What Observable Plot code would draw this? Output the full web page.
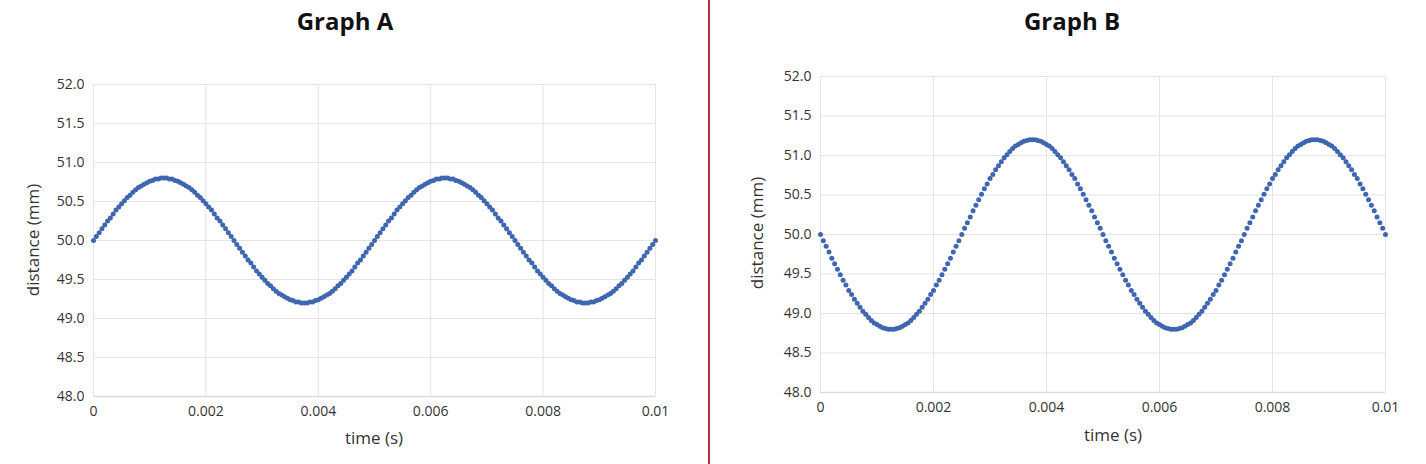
<!DOCTYPE html>
<html>
<head>
<meta charset="utf-8">
<script src="https://cdn.jsdelivr.net/npm/d3@7"></script>
<script src="https://cdn.jsdelivr.net/npm/@observablehq/plot@0.6"></script>
<style>
  html, body { margin: 0; padding: 0; background: #ffffff; }
  #root { position: relative; width: 1426px; height: 464px; overflow: hidden; font-family: "Open Sans", sans-serif; color: #262626; }
  .title { position: absolute; top: 6px; font-weight: 700; font-size: 24px; line-height: 30px; color: #111; transform: translateX(-50%); white-space: nowrap; }
  .xlab { position: absolute; font-size: 17px; line-height: 20px; color: #333; transform: translate(-50%, -50%); white-space: nowrap; }
  .ylab { position: absolute; font-size: 17px; line-height: 20px; color: #333; transform: translate(-50%, -50%) rotate(-90deg); white-space: nowrap; }
  .divider { position: absolute; left: 707.5px; top: 0; width: 2px; height: 464px; background: #b0343f; }
  .plotbox { position: absolute; top: 50px; }
</style>
</head>
<body>
<div id="root">
  <div class="title" style="left:345px">Graph A</div>
  <div class="title" style="left:1072px">Graph B</div>
  <div class="divider"></div>
  <div class="plotbox" id="plotA" style="left:0px"></div>
  <div class="plotbox" id="plotB" style="left:709px"></div>
  <div class="xlab" style="left:374px; top:438px">time (s)</div>
  <div class="xlab" style="left:1113px; top:435px">time (s)</div>
  <div class="ylab" style="left:33px; top:240px">distance (mm)</div>
  <div class="ylab" style="left:757px; top:233px">distance (mm)</div>
</div>
<script>
// sample times in milliseconds
const timeMs = [
  0,0.05,0.1,0.15,0.2,0.25,0.3,0.35,0.4,0.45,0.5,0.55,0.6,0.65,0.7,0.75,0.8,0.85,0.9,0.95,
  1,1.05,1.1,1.15,1.2,1.25,1.3,1.35,1.4,1.45,1.5,1.55,1.6,1.65,1.7,1.75,1.8,1.85,1.9,1.95,
  2,2.05,2.1,2.15,2.2,2.25,2.3,2.35,2.4,2.45,2.5,2.55,2.6,2.65,2.7,2.75,2.8,2.85,2.9,2.95,
  3,3.05,3.1,3.15,3.2,3.25,3.3,3.35,3.4,3.45,3.5,3.55,3.6,3.65,3.7,3.75,3.8,3.85,3.9,3.95,
  4,4.05,4.1,4.15,4.2,4.25,4.3,4.35,4.4,4.45,4.5,4.55,4.6,4.65,4.7,4.75,4.8,4.85,4.9,4.95,
  5,5.05,5.1,5.15,5.2,5.25,5.3,5.35,5.4,5.45,5.5,5.55,5.6,5.65,5.7,5.75,5.8,5.85,5.9,5.95,
  6,6.05,6.1,6.15,6.2,6.25,6.3,6.35,6.4,6.45,6.5,6.55,6.6,6.65,6.7,6.75,6.8,6.85,6.9,6.95,
  7,7.05,7.1,7.15,7.2,7.25,7.3,7.35,7.4,7.45,7.5,7.55,7.6,7.65,7.7,7.75,7.8,7.85,7.9,7.95,
  8,8.05,8.1,8.15,8.2,8.25,8.3,8.35,8.4,8.45,8.5,8.55,8.6,8.65,8.7,8.75,8.8,8.85,8.9,8.95,
  9,9.05,9.1,9.15,9.2,9.25,9.3,9.35,9.4,9.45,9.5,9.55,9.6,9.65,9.7,9.75,9.8,9.85,9.9,9.95,
  10
];

// Graph A distances (mm)
const distanceA = [
  50.00,50.05,50.10,50.15,50.20,50.25,50.29,50.34,50.39,50.43,50.47,50.51,50.55,50.58,50.62,50.65,50.68,50.70,50.72,50.74,50.76,50.77,50.79,50.79,50.80,50.80,
  50.80,50.79,50.79,50.77,50.76,50.74,50.72,50.70,50.68,50.65,50.62,50.58,50.55,50.51,50.47,50.43,50.39,50.34,50.29,50.25,50.20,50.15,50.10,50.05,50.00,
  49.95,49.90,49.85,49.80,49.75,49.71,49.66,49.61,49.57,49.53,49.49,49.45,49.42,49.38,49.35,49.32,49.30,49.28,49.26,49.24,49.23,49.21,49.21,49.20,49.20,
  49.20,49.21,49.21,49.23,49.24,49.26,49.28,49.30,49.32,49.35,49.38,49.42,49.45,49.49,49.53,49.57,49.61,49.66,49.71,49.75,49.80,49.85,49.90,49.95,50.00,
  50.05,50.10,50.15,50.20,50.25,50.29,50.34,50.39,50.43,50.47,50.51,50.55,50.58,50.62,50.65,50.68,50.70,50.72,50.74,50.76,50.77,50.79,50.79,50.80,50.80,
  50.80,50.79,50.79,50.77,50.76,50.74,50.72,50.70,50.68,50.65,50.62,50.58,50.55,50.51,50.47,50.43,50.39,50.34,50.29,50.25,50.20,50.15,50.10,50.05,50.00,
  49.95,49.90,49.85,49.80,49.75,49.71,49.66,49.61,49.57,49.53,49.49,49.45,49.42,49.38,49.35,49.32,49.30,49.28,49.26,49.24,49.23,49.21,49.21,49.20,49.20,
  49.20,49.21,49.21,49.23,49.24,49.26,49.28,49.30,49.32,49.35,49.38,49.42,49.45,49.49,49.53,49.57,49.61,49.66,49.71,49.75,49.80,49.85,49.90,49.95,50.00
];

// Graph B distances (mm)
const distanceB = [
  50.00,49.92,49.85,49.78,49.70,49.63,49.56,49.49,49.42,49.36,49.29,49.24,49.18,49.13,49.08,49.03,48.99,48.95,48.91,48.88,48.86,48.84,48.82,48.81,48.80,48.80,
  48.80,48.81,48.82,48.84,48.86,48.88,48.91,48.95,48.99,49.03,49.08,49.13,49.18,49.24,49.29,49.36,49.42,49.49,49.56,49.63,49.70,49.78,49.85,49.92,50.00,
  50.08,50.15,50.22,50.30,50.37,50.44,50.51,50.58,50.64,50.71,50.76,50.82,50.87,50.92,50.97,51.01,51.05,51.09,51.12,51.14,51.16,51.18,51.19,51.20,51.20,
  51.20,51.19,51.18,51.16,51.14,51.12,51.09,51.05,51.01,50.97,50.92,50.87,50.82,50.76,50.71,50.64,50.58,50.51,50.44,50.37,50.30,50.22,50.15,50.08,50.00,
  49.92,49.85,49.78,49.70,49.63,49.56,49.49,49.42,49.36,49.29,49.24,49.18,49.13,49.08,49.03,48.99,48.95,48.91,48.88,48.86,48.84,48.82,48.81,48.80,48.80,
  48.80,48.81,48.82,48.84,48.86,48.88,48.91,48.95,48.99,49.03,49.08,49.13,49.18,49.24,49.29,49.36,49.42,49.49,49.56,49.63,49.70,49.78,49.85,49.92,50.00,
  50.08,50.15,50.22,50.30,50.37,50.44,50.51,50.58,50.64,50.71,50.76,50.82,50.87,50.92,50.97,51.01,51.05,51.09,51.12,51.14,51.16,51.18,51.19,51.20,51.20,
  51.20,51.19,51.18,51.16,51.14,51.12,51.09,51.05,51.01,50.97,50.92,50.87,50.82,50.76,50.71,50.64,50.58,50.51,50.44,50.37,50.30,50.22,50.15,50.08,50.00
];

const xTicks = [0, 0.002, 0.004, 0.006, 0.008, 0.01];
const yTicks = [48.0, 48.5, 49.0, 49.5, 50.0, 50.5, 51.0, 51.5, 52.0];

const dataA = timeMs.map((t, i) => ({t: t / 1000, d: distanceA[i]}));
const dataB = timeMs.map((t, i) => ({t: t / 1000, d: distanceB[i]}));

const fmtX = d => String(+d.toFixed(4));
const fmtY = d => d.toFixed(1);

function makePlot(data, m) {
  return Plot.plot({
    width: m.width,
    height: 414,
    marginTop: m.top,
    marginBottom: m.bottom,
    marginLeft: m.left,
    marginRight: m.right,
    style: {fontFamily: "'Open Sans', sans-serif", fontSize: "14px", color: "#333", background: "transparent", overflow: "visible"},
    x: {domain: [0, 0.01]},
    y: {domain: [48, 52]},
    marks: [
      Plot.gridX(xTicks, {stroke: "#e4e4e4", strokeOpacity: 1}),
      Plot.gridY(yTicks, {stroke: "#e4e4e4", strokeOpacity: 1}),
      Plot.ruleY([48], {stroke: "#dadada", strokeWidth: 1.5}),
      Plot.axisX(xTicks, {tickSize: 0, tickPadding: 10, tickFormat: fmtX, label: null, fill: "#333"}),
      Plot.axisY(yTicks, {tickSize: 0, tickPadding: 9, tickFormat: fmtY, label: null, fill: "#333"}),
      Plot.dot(data, {x: "t", y: "d", r: 2.5, fill: "#3f66b0", stroke: null})
    ]
  });
}

document.getElementById("plotA").appendChild(
  makePlot(dataA, {width: 707, top: 34, bottom: 68, left: 93, right: 52})
);
document.getElementById("plotB").appendChild(
  makePlot(dataB, {width: 717, top: 26, bottom: 72, left: 111, right: 41})
);
</script>
</body>
</html>
